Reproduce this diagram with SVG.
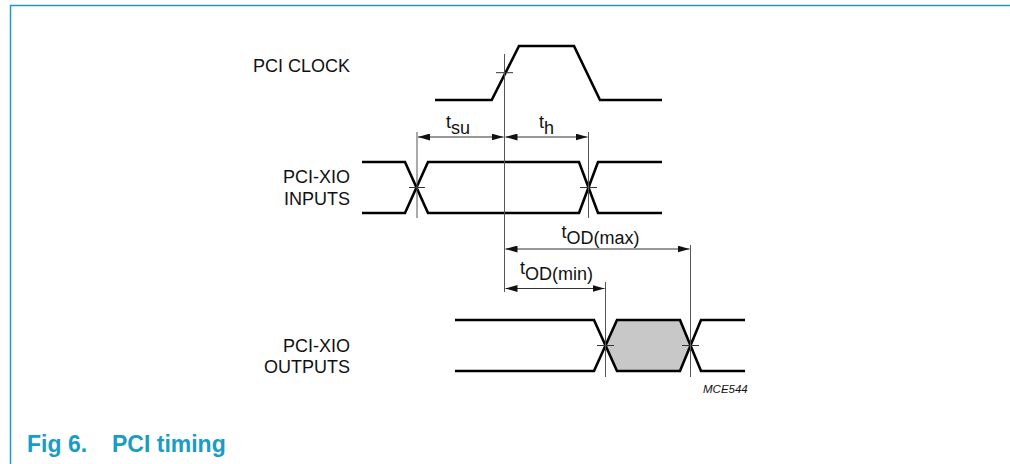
<svg xmlns="http://www.w3.org/2000/svg" width="1010" height="464" viewBox="0 0 1010 464">
<style>
.frame{fill:none;stroke:#1a9cc4;stroke-width:1.5}
.sig{fill:none;stroke:#000;stroke-width:2.6;stroke-linejoin:miter}
.ref{fill:none;stroke:#555;stroke-width:1}
.tick{fill:none;stroke:#333;stroke-width:1}
.dim{fill:none;stroke:#333;stroke-width:1.2}
.lbl{font-family:"Liberation Sans",Arial,sans-serif;font-size:18px;fill:#111}
.t{font-family:"Liberation Sans",Arial,sans-serif;font-size:18px;fill:#111}
.title{font-family:"Liberation Sans",Arial,sans-serif;font-size:23px;font-weight:bold;fill:#1a9cc4}
.code{font-family:"Liberation Sans",Arial,sans-serif;font-size:11.5px;font-style:italic;fill:#111}
</style>
<defs>
<marker id="ah" viewBox="0 0 12 7" refX="12" refY="3.5" markerWidth="12" markerHeight="7" markerUnits="userSpaceOnUse" orient="auto-start-reverse">
<path d="M0,0 L12,3.5 L0,7 Z" fill="#111"/>
</marker>
</defs>
<rect width="1010" height="464" fill="#fff"/>
<path class="frame" d="M10.5,464 V5.5 H1010"/>

<g id="clock">
<text class="lbl" x="350" y="72" text-anchor="end">PCI CLOCK</text>
<path class="sig" d="M435,100 H491.7 L519,46 H574 L600,100 H662"/>
<path class="tick" d="M496,72.7 H513"/>
</g>

<g id="inputs">
<text class="lbl" x="350" y="183" text-anchor="end">PCI-XIO</text>
<text class="lbl" x="350" y="205" text-anchor="end">INPUTS</text>
<path class="sig" d="M362,162 H405 L428,213 H579 L598,162 H662"/>
<path class="sig" d="M362,213 H405 L428,162 H579 L598,213 H662"/>
<path class="tick" d="M409,187.5 H425 M580,187.5 H597"/>
</g>

<g id="outputs">
<text class="lbl" x="350" y="352" text-anchor="end">PCI-XIO</text>
<text class="lbl" x="350" y="373" text-anchor="end">OUTPUTS</text>
<polygon points="605.5,345.5 617,320 680,320 690.5,345.5 680,371 617,371" fill="#c8c8c8"/>
<path class="sig" d="M455,320 H594 L617,371 H680 L701,320 H745"/>
<path class="sig" d="M455,371 H594 L617,320 H680 L701,371 H745"/>
<path class="tick" d="M597,345.5 H614 M682,345.5 H699"/>
</g>

<g id="connectors">
<path class="ref" d="M504.5,54 V292"/>
<path class="ref" d="M417,132 V218"/>
<path class="ref" d="M588.5,132 V218"/>
<path class="ref" d="M605.5,282 V377"/>
<path class="ref" d="M690.5,245 V377"/>
<path class="dim" d="M418,137 H503.5" marker-start="url(#ah)" marker-end="url(#ah)"/>
<path class="dim" d="M505.5,137 H587.5" marker-start="url(#ah)" marker-end="url(#ah)"/>
<path class="dim" d="M505.5,249 H689.5" marker-start="url(#ah)" marker-end="url(#ah)"/>
<path class="dim" d="M505.5,288.5 H604.5" marker-start="url(#ah)" marker-end="url(#ah)"/>
<text class="t" x="446" y="128">t<tspan dy="6">su</tspan></text>
<text class="t" x="539" y="128">t<tspan dy="6">h</tspan></text>
<text class="t" x="561.5" y="238">t<tspan dy="6">OD(max)</tspan></text>
<text class="t" x="520" y="274">t<tspan dy="6">OD(min)</tspan></text>
</g>

<text class="code" x="703" y="393">MCE544</text>
<text class="title" x="27" y="452">Fig 6.<tspan x="112">PCI timing</tspan></text>
</svg>
